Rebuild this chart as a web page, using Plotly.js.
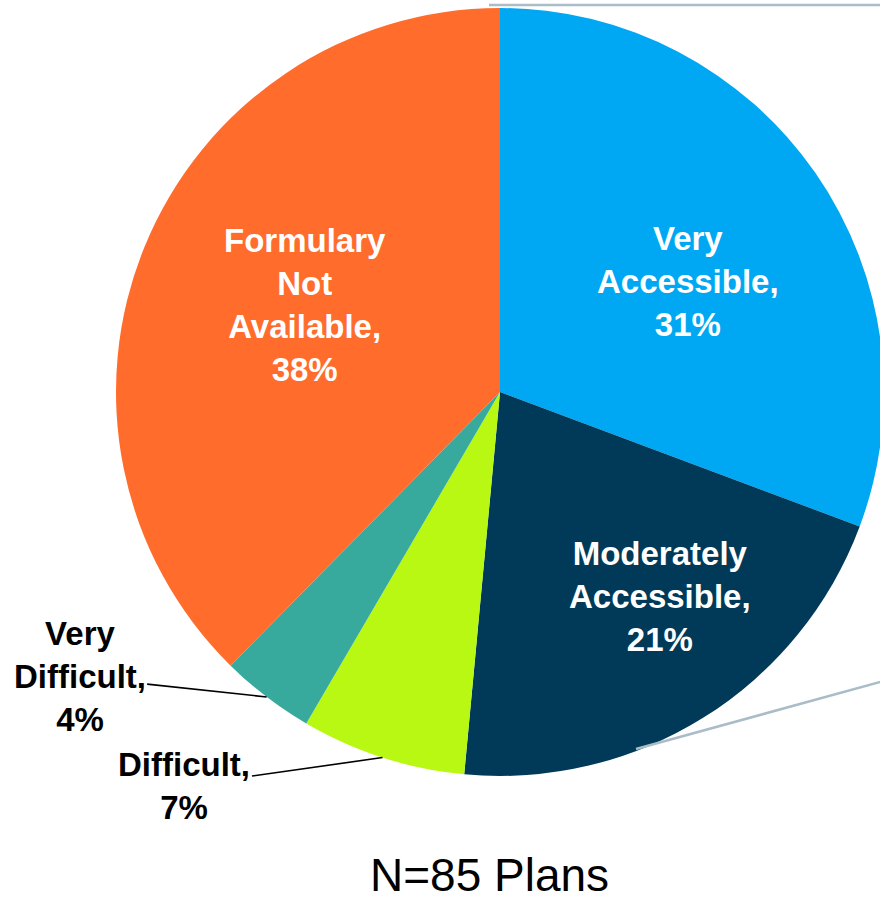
<!DOCTYPE html>
<html>
<head>
<meta charset="utf-8">
<script src="https://cdn.plot.ly/plotly-3.0.1.min.js"></script>
<style>
  html, body { margin: 0; padding: 0; background: #ffffff; overflow: hidden; }
  #chart { width: 900px; height: 902px; }
</style>
</head>
<body>
<div id="chart"></div>
<script>
// Formulary accessibility across plans (percent of plans)
const categories = ["Very<br>Accessible", "Moderately<br>Accessible", "Difficult", "Very<br>Difficult", "Formulary<br>Not<br>Available"];
const shares = [31, 21, 7, 4, 38];
const sliceColors = ["#00A8F3", "#003A58", "#B8F812", "#37AA9D", "#FF6C2C"];
const labelPlacement = ["inside", "inside", "outside", "outside", "inside"];
const footnote = "N=85 Plans";

// Canvas geometry of the pie (pixels)
const W = 900, H = 902;
const CX = 500, CY = 392, R = 384;

// Label placement: inside labels sit at a fraction of the radius near the
// slice's mid-angle (degrees nudge); outside labels are callouts offset in px
const labelRadius = [0.567, 0.677, 0, 0, 0.556];
const labelAngleNudge = [4.4, -5.9, 0, 0, 1.7];
const calloutOffsets = [null, null, [-198, 28], [-187, -20], null];

const boldFont = (size, color) => ({ family: "Liberation Sans, Arial, sans-serif", size: size, color: color, weight: "bold" });

const total = shares.reduce((a, b) => a + b, 0);
const annotations = [];
let cum = 0;
shares.forEach((v, i) => {
  const midDeg = (cum + v / 2) / total * 360;
  cum += v;
  const text = categories[i] + ",<br>" + v + "%";
  if (labelPlacement[i] === "outside") {
    const a = midDeg * Math.PI / 180;
    const px = CX + R * Math.sin(a);
    const py = CY - R * Math.cos(a);
    annotations.push({
      xref: "paper", yref: "paper",
      x: px / W, y: (H - py) / H,
      text: text,
      showarrow: true, arrowhead: 0, arrowwidth: 1.6, arrowcolor: "#000000",
      standoff: 0, startstandoff: 0,
      ax: calloutOffsets[i][0], ay: calloutOffsets[i][1],
      align: "center",
      font: boldFont(33, "#000000")
    });
  } else {
    const a = (midDeg + labelAngleNudge[i]) * Math.PI / 180;
    const px = CX + labelRadius[i] * R * Math.sin(a);
    const py = CY - labelRadius[i] * R * Math.cos(a);
    annotations.push({
      xref: "paper", yref: "paper",
      x: px / W, y: (H - py) / H,
      xanchor: "center", yanchor: "middle",
      text: text, showarrow: false, align: "center",
      font: boldFont(33, "#ffffff")
    });
  }
});

annotations.push({
  xref: "paper", yref: "paper",
  x: 490 / W, y: 0,
  xanchor: "center", yanchor: "bottom",
  borderpad: 0,
  text: footnote, showarrow: false,
  font: { family: "Liberation Sans, Arial, sans-serif", size: 46, color: "#000000" }
});

const trace = {
  type: "pie",
  labels: categories,
  values: shares,
  sort: false,
  direction: "clockwise",
  rotation: 0,
  marker: { colors: sliceColors, line: { width: 0 } },
  textinfo: "none",
  hoverinfo: "label+value",
  showlegend: false,
  domain: { x: [(CX - R) / W, (CX + R) / W], y: [(H - CY - R) / H, (H - CY + R) / H] }
};

// Connector lines running off the right edge
const lineStyle = { color: "#A9BCC8", width: 2.5 };
const shapes = [
  { type: "line", xref: "paper", yref: "paper", x0: 489 / W, y0: (H - 5) / H, x1: 1, y1: (H - 5) / H, line: lineStyle },
  { type: "line", xref: "paper", yref: "paper", x0: 636 / W, y0: (H - 749) / H, x1: 1, y1: (H - 676.5) / H, line: lineStyle }
];

const layout = {
  width: W, height: H,
  margin: { l: 0, r: 0, t: 0, b: 0 },
  paper_bgcolor: "#ffffff",
  plot_bgcolor: "#ffffff",
  annotations: annotations,
  shapes: shapes
};

Plotly.newPlot("chart", [trace], layout, { displayModeBar: false, staticPlot: true });
</script>
</body>
</html>
